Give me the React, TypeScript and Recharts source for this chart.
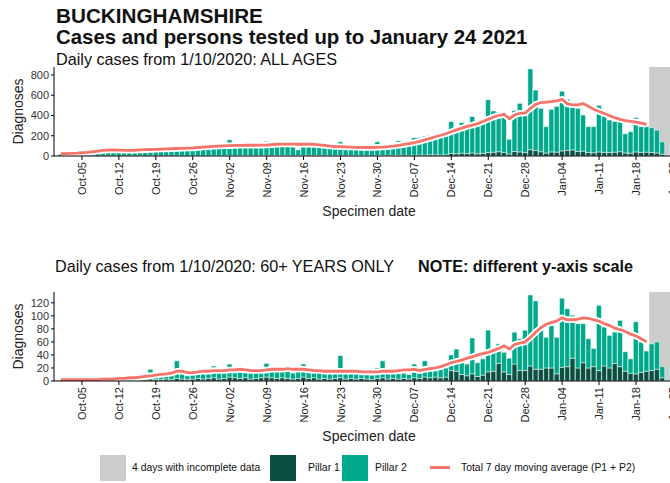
import { ComposedChart, Bar, Line, XAxis, YAxis, ReferenceArea } from "recharts";

// day index 0 = 1 Oct 2020 ... 115 = 24 Jan 2021
const tickDays = [4, 11, 18, 25, 32, 39, 46, 53, 60, 67, 74, 81, 88, 95, 102, 109, 116];
const tickLabels = [
  "Oct-05", "Oct-12", "Oct-19", "Oct-26", "Nov-02", "Nov-09", "Nov-16", "Nov-23", "Nov-30",
  "Dec-07", "Dec-14", "Dec-21", "Dec-28", "Jan-04", "Jan-11", "Jan-18", "Jan-25",
];

// ALL AGES
const allP1 = [
  1, 0, 1, 0, 1, 2, 1, 0, 1, 1, 2, 1, 1, 2, 1, 2, 1, 2, 2, 1, 2, 3, 2, 2, 1, 3, 2, 3, 2, 3, 2,
  3, 4, 3, 5, 4, 4, 3, 5, 6, 4, 5, 6, 5, 4, 3, 5, 6, 4, 5, 6, 4, 3, 5, 4, 5, 4, 3, 4, 3, 5,
  4, 6, 5, 7, 6, 5, 8, 9, 10, 12, 11, 10, 12, 25, 22, 28, 24, 30, 22, 26, 35, 38, 42, 36, 20, 45, 40, 35, 62, 55, 42,
  30, 40, 38, 50, 55, 60, 45, 48, 35, 32, 40, 36, 34, 38, 42, 30, 28, 40, 36, 38, 35, 30, 18, 2,
];
const allP2 = [
  17, 22, 14, 20, 27, 30, 71, 40, 44, 54, 48, 47, 54, 58, 57, 60, 54, 58, 63, 69, 66, 72, 70, 68, 77, 77, 83, 87, 93, 89, 96,
  87, 156, 97, 93, 100, 98, 93, 90, 139, 101, 105, 106, 103, 114, 57, 105, 102, 101, 95, 89, 76, 75, 135, 76, 77, 74, 72, 68, 67, 135,
  74, 76, 83, 143, 86, 95, 172, 173, 185, 193, 204, 210, 228, 315, 253, 302, 281, 360, 278, 329, 520, 407, 393, 384, 145, 405, 480, 365, 798, 595, 428,
  260, 420, 452, 590, 505, 430, 425, 357, 255, 258, 460, 359, 321, 302, 298, 190, 212, 340, 254, 252, 245, 225, 122, 8,
];
const allAvg = [
  22, 24, 26, 28, 32, 36, 42, 48, 55, 58, 60, 58, 56, 56, 57, 60, 62, 64, 66, 68, 70, 72, 74, 76, 78, 80, 84, 88, 92, 96, 98,
  100, 102, 104, 105, 106, 106, 106, 107, 108, 112, 116, 118, 118, 117, 116, 116, 116, 114, 110, 104, 98, 94, 92, 90, 88, 86, 85, 84, 84, 86,
  88, 92, 98, 106, 114, 122, 132, 145, 160, 175, 190, 205, 220, 240, 258, 275, 292, 305, 320, 340, 362, 385, 400, 412, 368, 405, 422, 425, 470, 510, 528,
  532, 538, 545, 560, 515, 505, 505, 518, 490, 462, 440, 420, 398, 378, 362, 350, 342, 335, 325, 312,
];

// 60+ YEARS
const oldP1 = [
  0, 1, 0, 1, 0, 1, 0, 0, 1, 0, 1, 1, 0, 1, 2, 1, 2, 3, 2, 2, 3, 2, 4, 3, 2, 3, 4, 3, 4, 5, 3,
  4, 6, 5, 4, 5, 3, 4, 5, 6, 5, 4, 5, 4, 3, 4, 6, 4, 5, 3, 4, 3, 4, 5, 3, 4, 3, 4, 3, 2, 4,
  5, 3, 4, 3, 4, 3, 5, 4, 6, 5, 6, 5, 6, 16, 15, 10, 8, 11, 7, 9, 14, 15, 27, 14, 10, 26, 16, 16, 23, 18, 18,
  20, 20, 11, 21, 22, 35, 20, 28, 20, 22, 16, 23, 20, 27, 22, 15, 12, 11, 13, 15, 16, 18, 5, 1,
];
const oldP2 = [
  1, 1, 1, 1, 2, 2, 2, 1, 2, 2, 2, 3, 3, 3, 3, 3, 4, 15, 5, 6, 7, 10, 27, 9, 6, 10, 10, 12, 10, 18, 11,
  12, 20, 12, 14, 11, 10, 11, 11, 21, 16, 13, 12, 12, 9, 11, 20, 11, 9, 10, 8, 8, 8, 34, 10, 10, 8, 8, 7, 7, 16,
  26, 9, 9, 8, 8, 7, 21, 12, 25, 11, 11, 13, 14, 24, 34, 21, 18, 55, 21, 25, 64, 32, 30, 30, 25, 49, 49, 62, 109, 105, 60,
  47, 65, 56, 106, 89, 66, 68, 60, 45, 28, 100, 60, 50, 48, 71, 30, 22, 80, 47, 31, 41, 42, 17, 1,
];
const oldAvg = [
  2, 2, 2, 2, 2, 2, 2, 2, 3, 3, 3, 4, 4, 5, 5, 6, 7, 8, 9, 10, 11, 12, 15, 15, 13, 13, 14, 15, 15, 16, 16,
  16, 17, 17, 18, 17, 16, 16, 16, 17, 18, 18, 18, 19, 18, 18, 18, 17, 16, 16, 15, 15, 15, 15, 15, 15, 15, 14, 14, 14, 14,
  15, 15, 15, 16, 17, 17, 18, 16, 18, 19, 20, 22, 25, 28, 30, 32, 35, 37, 40, 42, 44, 47, 50, 54, 49, 56, 58, 60, 67, 75, 82,
  87, 90, 92, 97, 94, 94, 95, 97, 96, 94, 92, 88, 85, 81, 79, 76, 72, 69, 65, 60,
];

const FONT = '"Liberation Sans", Arial, sans-serif';
const P1_COLOR = "#0b4f40";
const P2_COLOR = "#00a98b";
const AVG_COLOR = "#f6736a";
const GREY = "#cccccc";

const DateTick = (props: any) => {
  const { x, y, payload } = props;
  const label = tickLabels[tickDays.indexOf(payload.value)] ?? "";
  return (
    <text
      x={x}
      y={y}
      transform={`rotate(-90, ${x}, ${y})`}
      textAnchor="end"
      dominantBaseline="central"
      fontSize={11}
      fontFamily={FONT}
      fill="#222"
    >
      {label}
    </text>
  );
};

function Panel({ p1, p2, avg, yMax, yTicks, top }: any) {
  const rows = p1.map((v: number, i: number) => ({ day: i, p1: v, p2: p2[i], avg: avg[i] }));
  return (
    <div style={{ position: "absolute", left: 0, top }}>
      <ComposedChart
        width={684}
        height={153}
        data={rows}
        margin={{ top: 0, right: 0, left: 10, bottom: 0 }}
        barCategoryGap={0}
        barGap={0}
      >
        <ReferenceArea x1={111.5} x2={118.1} y1={0} y2={yMax} fill={GREY} fillOpacity={1} stroke="none" ifOverflow="hidden" />
        <XAxis
          dataKey="day"
          type="number"
          domain={[-1.3, 118.1]}
          ticks={tickDays}
          interval={0}
          allowDataOverflow
          height={64}
          tickSize={4}
          tickMargin={2}
          stroke="#000"
          tick={<DateTick />}
          label={{ value: "Specimen date", position: "insideBottom", offset: 4, fontSize: 14, fill: "#222", fontFamily: FONT }}
        />
        <YAxis
          width={44}
          domain={[0, yMax]}
          ticks={yTicks}
          interval={0}
          allowDataOverflow
          tickSize={3}
          tickMargin={2}
          stroke="#000"
          tick={{ fontSize: 11, fill: "#333", fontFamily: FONT }}
          label={{
            content: (lp: any) => {
              const vb = lp.viewBox;
              const cy = vb.y + vb.height / 2;
              return (
                <text x={18} y={cy} transform={`rotate(-90, 18, ${cy})`} textAnchor="middle" dominantBaseline="central" fontSize={14} fill="#222" fontFamily={FONT}>
                  Diagnoses
                </text>
              );
            },
          }}
        />
        <Bar dataKey="p1" stackId="s" fill={P1_COLOR} stroke="#fff" strokeWidth={0.5} isAnimationActive={false} />
        <Bar dataKey="p2" stackId="s" fill={P2_COLOR} stroke="#fff" strokeWidth={0.5} isAnimationActive={false} />
        <Line dataKey="avg" type="linear" stroke="#fff" strokeWidth={6.5} dot={false} isAnimationActive={false} />
        <Line dataKey="avg" type="linear" stroke={AVG_COLOR} strokeWidth={2.8} dot={false} isAnimationActive={false} />
      </ComposedChart>
    </div>
  );
}

const txt = (extra: any) => ({ position: "absolute" as const, fontFamily: FONT, color: "#111", whiteSpace: "nowrap" as const, lineHeight: 1, ...extra });

export default function App() {
  return (
    <div style={{ position: "absolute", left: 0, top: 0, width: 670, height: 483, overflow: "hidden", background: "#fff" }}>
      <div style={txt({ left: 56, top: 6, fontSize: 20.7, fontWeight: 700 })}>BUCKINGHAMSHIRE</div>
      <div style={txt({ left: 56, top: 27, fontSize: 20.4, fontWeight: 700 })}>Cases and persons tested up to January 24 2021</div>
      <div style={txt({ left: 56, top: 51, fontSize: 16.2 })}>Daily cases from 1/10/2020: ALL AGES</div>

      <Panel p1={allP1} p2={allP2} avg={allAvg} yMax={879} yTicks={[0, 200, 400, 600, 800]} top={67} />

      <div style={txt({ left: 55, top: 258, fontSize: 16.2 })}>Daily cases from 1/10/2020: 60+ YEARS ONLY</div>
      <div style={txt({ left: 418, top: 258, fontSize: 16.2, fontWeight: 700 })}>NOTE: different y-axis scale</div>

      <Panel p1={oldP1} p2={oldP2} avg={oldAvg} yMax={136.6} yTicks={[0, 20, 40, 60, 80, 100, 120]} top={292} />

      <div style={{ position: "absolute", left: 100, top: 455, width: 26, height: 26, background: GREY }} />
      <div style={txt({ left: 132, top: 463, fontSize: 10.4 })}>4 days with incomplete data</div>
      <div style={{ position: "absolute", left: 270, top: 455, width: 26, height: 26, background: P1_COLOR }} />
      <div style={txt({ left: 308, top: 463, fontSize: 10.4 })}>Pillar 1</div>
      <div style={{ position: "absolute", left: 342, top: 455, width: 26, height: 26, background: P2_COLOR }} />
      <div style={txt({ left: 375, top: 463, fontSize: 10.4 })}>Pillar 2</div>
      <div style={{ position: "absolute", left: 430, top: 466, width: 20, height: 3, background: AVG_COLOR }} />
      <div style={txt({ left: 461, top: 463, fontSize: 10.4 })}>Total 7 day moving average (P1 + P2)</div>
    </div>
  );
}
